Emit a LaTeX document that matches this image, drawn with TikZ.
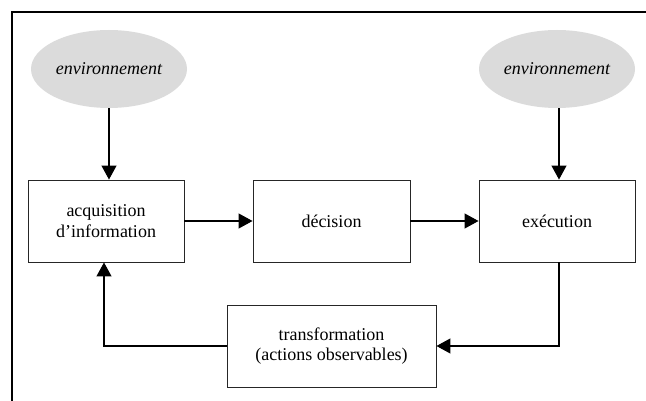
\documentclass[tikz,border=0pt]{standalone}
\usepackage{fontspec}
\setmainfont{Liberation Serif}
\usetikzlibrary{arrows.meta,shapes.geometric}
\begin{document}
\begin{tikzpicture}[x=1pt,y=-1pt,
  every node/.style={font=\fontsize{18}{20.5}\selectfont, align=center, inner sep=0pt},
  stepbox/.style={draw=black!85, line width=0.9pt, rectangle, minimum height=82pt},
  env/.style={ellipse, fill=black!14, minimum width=156pt, minimum height=78pt,
              font=\fontsize{18}{20.5}\selectfont\itshape},
  flow/.style={draw=black, line width=1.2pt, -{Triangle[length=14pt,width=15pt]}},
  frame/.style={draw=black, line width=2pt}]
  \useasboundingbox (0,0) rectangle (646,401);

  % open outer frame
  \coordinate (fbl) at (12,402);
  \coordinate (ftl) at (12,12.5);
  \coordinate (ftr) at (647,12.5);
  \draw[frame] (fbl) -- (ftl) -- (ftr);

  % surroundings
  \node[env] (env1) at (109,69) {environnement};
  \node[env] (env2) at (557,69) {environnement};

  % processing stages
  \node[stepbox, minimum width=156pt] (acq)  at (106,221)   {acquisition\\d’information};
  \node[stepbox, minimum width=157pt] (dec)  at (331.5,221) {décision};
  \node[stepbox, minimum width=156pt] (exe)  at (557,221)   {exécution};
  \node[stepbox, minimum width=209pt] (tra)  at (331.5,346) {transformation\\(actions observables)};

  % connectors
  \draw[flow] (env1.south -| 109,0) -- (acq.north -| 109,0);
  \draw[flow] (env2.south -| 559,0) -- (exe.north -| 559,0);
  \draw[flow] (acq.east) -- (dec.west);
  \draw[flow] (dec.east) -- (exe.west);
  \draw[flow] (exe.south -| 559,0) |- (tra.east);
  \draw[flow] (tra.west) -| (acq.south -| 104,0);
\end{tikzpicture}
\end{document}
